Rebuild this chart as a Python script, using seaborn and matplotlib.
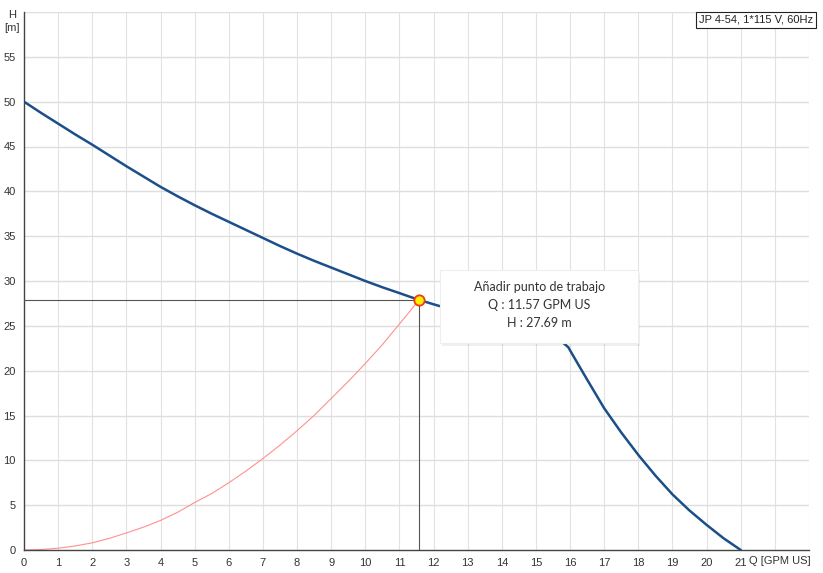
import numpy as np
import pandas as pd
import matplotlib
matplotlib.use("Agg")
import matplotlib.pyplot as plt
import seaborn as sns
from matplotlib.patches import FancyBboxPatch

# ------------------------------------------------------------
# Données (Q en GPM US, H en m)
# ------------------------------------------------------------
q_pompe = [0, 0.5, 1, 1.5, 2, 2.5, 3, 3.5, 4, 4.5, 5, 5.5, 6, 6.5, 7, 7.5,
           8, 8.5, 9, 9.5, 10, 10.5, 11, 11.3, 11.57, 12, 13, 14, 15, 15.5,
           15.8, 15.95, 16.1, 16.5, 17, 17.5, 18, 18.5, 19, 19.5, 20, 20.5, 21]
h_pompe = [50, 48.75, 47.55, 46.35, 45.2, 44.0, 42.8, 41.65, 40.5, 39.45,
           38.45, 37.5, 36.6, 35.7, 34.8, 33.9, 33.05, 32.25, 31.5, 30.75,
           30.0, 29.3, 28.65, 28.25, 27.9, 27.4, 26.3, 25.2, 24.1, 23.5, 23.1,
           22.6, 21.6, 19.0, 15.8, 13.1, 10.6, 8.3, 6.2, 4.4, 2.8, 1.3, 0]

q_systeme = [0, 0.5, 1, 1.5, 2, 2.5, 3, 3.5, 4, 4.5, 5, 5.5, 6, 6.5, 7, 7.5,
             8, 8.5, 9, 9.5, 10, 10.5, 11, 11.3, 11.57]
h_systeme = [0, 0.05, 0.2, 0.45, 0.8, 1.3, 1.9, 2.55, 3.3, 4.2, 5.3, 6.3, 7.5,
             8.8, 10.2, 11.7, 13.3, 15.0, 16.9, 18.8, 20.8, 22.9, 25.2, 26.6,
             27.9]

q_point = 11.57
h_point = 27.9
titre_pompe = "JP 4-54, 1*115 V, 60Hz"
texte_point = ["Añadir punto de trabajo", "Q : 11.57 GPM US", "H : 27.69 m"]

x_ticks = list(range(0, 22))
y_ticks = list(range(0, 60, 5))

df_pompe = pd.DataFrame({"Q": q_pompe, "H": h_pompe})
df_sys = pd.DataFrame({"Q": q_systeme, "H": h_systeme})

# ------------------------------------------------------------
# Figure
# ------------------------------------------------------------
sns.set_style("white")
plt.rcParams["font.family"] = ["Liberation Sans", "DejaVu Sans"]

fig = plt.figure(figsize=(8.23, 5.73), dpi=100)
ax = fig.add_axes([24 / 823, 23 / 573, 785 / 823, 538 / 573])

# grille
for x in range(1, 24):
    ax.axvline(x, color="#e2e2e2", lw=0.8, zorder=0)
for y in range(5, 61, 5):
    ax.axhline(y, color="#dedede", lw=1.0, zorder=0)

# courbe du système
sns.lineplot(data=df_sys, x="Q", y="H", ax=ax, color="#ff9090", lw=0.8,
             sort=False, zorder=2)

# lignes du point de fonctionnement
ax.plot([0, q_point], [h_point, h_point], color="#555555", lw=0.8, zorder=3)
ax.plot([q_point, q_point], [0, h_point], color="#555555", lw=0.8, zorder=3)

# courbe de la pompe
sns.lineplot(data=df_pompe, x="Q", y="H", ax=ax, color="#1b4f8a", lw=1.8,
             sort=False, zorder=4)

ax.scatter([q_point], [h_point], s=55, color="#ffee00", edgecolor="#ee3b1b",
           linewidth=1.3, zorder=6)

ax.set_xlim(0, 23)
ax.set_ylim(0, 60)
ax.set_xticks(list(range(0, 24)))
ax.set_xticklabels([str(t) if t in x_ticks else "" for t in range(0, 24)])
ax.set_yticks(y_ticks)
ax.set_xlabel("")
ax.set_ylabel("")

for s in ["top", "right"]:
    ax.spines[s].set_visible(False)
for s in ["left", "bottom"]:
    ax.spines[s].set_color("#444444")
    ax.spines[s].set_linewidth(1.0)
ax.tick_params(axis="both", direction="out", length=4, width=0.8,
               colors="#444444", labelsize=8, labelcolor="#333333", pad=2)

# étiquettes des axes
fig.text(12 / 823, 1 - 15 / 573, "H", fontsize=8, ha="center", va="center",
         color="#333333")
fig.text(12 / 823, 1 - 28 / 573, "[m]", fontsize=8, ha="center", va="center",
         color="#333333")
fig.text(780 / 823, 1 - 561 / 573, "Q [GPM US]", fontsize=8, ha="center",
         va="center", color="#333333")

# boîte du titre
fig.text(756 / 823, 1 - 20 / 573, titre_pompe, fontsize=8, ha="center",
         va="center", color="#222222",
         bbox=dict(boxstyle="square,pad=0.25", fc="white", ec="#222222", lw=0.8))

# info-bulle
x0, x1 = 12.2, 18.0
y0, y1 = 23.1, 31.25
ombre = FancyBboxPatch((x0 + 0.04, y0 - 0.35), x1 - x0, y1 - y0,
                       boxstyle="square,pad=0", fc="#000000", alpha=0.06,
                       ec="none", zorder=7)
boite = FancyBboxPatch((x0, y0), x1 - x0, y1 - y0, boxstyle="square,pad=0",
                       fc="white", ec="#eeeeee", lw=0.8, zorder=8)
ax.add_patch(ombre)
ax.add_patch(boite)
xc = (x0 + x1) / 2
for i, ligne in enumerate(texte_point):
    ax.text(xc, 29.3 - i * 2.0, ligne, ha="center", va="center", fontsize=9,
            family=["Lato", "DejaVu Sans"], color="#333333", zorder=9)

fig.savefig("out.png", dpi=100)
